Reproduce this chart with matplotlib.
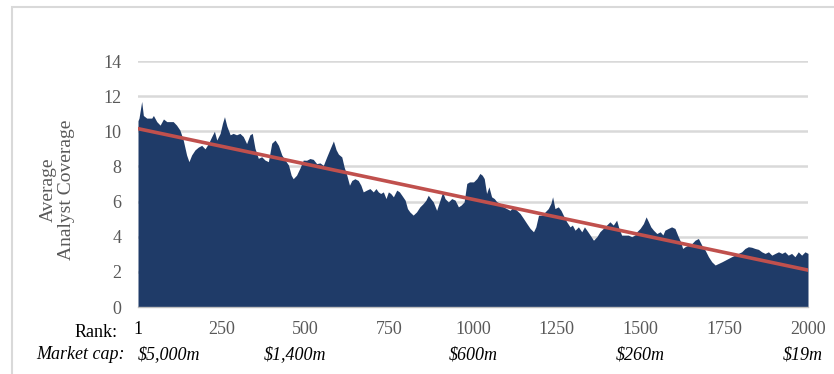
import matplotlib
matplotlib.use("Agg")
import matplotlib.pyplot as plt
from matplotlib.patches import Rectangle

plt.rcParams['font.family'] = ['Liberation Serif', 'DejaVu Serif']

# Average analyst coverage by market-cap rank
ranks = [1, 4, 12, 17, 27, 42, 47, 57, 67, 77, 87, 106, 116, 126, 136, 146, 153,
         161, 171, 181, 191, 201, 211, 221, 229, 236, 246, 253, 259, 266, 276,
         285, 295, 305, 315, 325, 335, 342, 350, 360, 370, 380, 390, 400, 410,
         420, 430, 440, 450, 458, 464, 474, 484, 494, 504, 514, 524, 534, 544,
         554, 564, 574, 584, 592, 599, 609, 616, 624, 632, 639, 648, 658, 666,
         673, 683, 693, 703, 711, 718, 725, 733, 741, 748, 755, 763, 773, 781,
         788, 798, 805, 812, 822, 832, 842, 852, 860, 867, 874, 882, 892, 902,
         910, 917, 927, 937, 947, 957, 965, 974, 982, 990, 1002, 1012, 1021,
         1028, 1034, 1041, 1048, 1056, 1064, 1071, 1081, 1091, 1101, 1111, 1121,
         1131, 1141, 1151, 1161, 1171, 1181, 1188, 1196, 1206, 1215, 1225, 1233,
         1238, 1245, 1255, 1263, 1270, 1280, 1290, 1297, 1305, 1315, 1325, 1333,
         1340, 1350, 1360, 1370, 1379, 1389, 1399, 1409, 1419, 1429, 1436, 1444,
         1454, 1464, 1474, 1484, 1489, 1499, 1509, 1517, 1524, 1531, 1539, 1549,
         1559, 1567, 1573, 1583, 1593, 1603, 1613, 1620, 1626, 1633, 1643, 1653,
         1663, 1673, 1683, 1693, 1703, 1713, 1723, 1733, 1743, 1753, 1762, 1772,
         1782, 1792, 1802, 1812, 1822, 1832, 1842, 1852, 1862, 1872, 1882, 1892,
         1902, 1912, 1922, 1931, 1941, 1951, 1961, 1971, 1981, 1991, 2000]
coverage = [10.6, 10.75, 11.7, 10.9, 10.75, 10.75, 10.9, 10.55, 10.35, 10.7, 10.55,
            10.55, 10.35, 10.07, 9.5, 8.65, 8.27, 8.65, 8.94, 9.1, 9.2, 9.0, 9.3,
            9.7, 10.0, 9.5, 9.88, 10.45, 10.83, 10.3, 9.8, 9.88, 9.8, 9.88, 9.7,
            9.3, 9.8, 9.88, 9.03, 8.46, 8.55, 8.36, 8.27, 9.32, 9.5, 9.2, 8.65,
            8.36, 8.08, 7.5, 7.3, 7.5, 7.9, 8.36, 8.35, 8.45, 8.4, 8.16, 8.2,
            8.06, 8.54, 9.0, 9.45, 8.95, 8.7, 8.54, 7.97, 7.5, 6.93, 7.2, 7.3,
            7.2, 6.93, 6.55, 6.65, 6.74, 6.55, 6.74, 6.55, 6.46, 6.55, 6.17, 6.55,
            6.46, 6.27, 6.65, 6.55, 6.36, 6.08, 5.6, 5.41, 5.23, 5.41, 5.7, 5.89,
            6.08, 6.36, 6.17, 5.98, 5.5, 6.08, 6.55, 6.17, 5.98, 6.17, 6.08, 5.7,
            5.8, 5.98, 7.03, 7.12, 7.12, 7.31, 7.6, 7.5, 7.31, 6.46, 6.84, 6.27,
            6.17, 6.0, 5.9, 5.7, 5.6, 5.5, 5.7, 5.5, 5.32, 5.04, 4.75, 4.47, 4.28,
            4.56, 5.22, 5.22, 5.4, 5.6, 5.9, 6.27, 5.6, 5.7, 5.5, 5.22, 4.85, 4.56,
            4.66, 4.37, 4.56, 4.28, 4.56, 4.37, 4.09, 3.8, 4.0, 4.28, 4.47, 4.66,
            4.85, 4.66, 4.94, 4.47, 4.09, 4.09, 4.09, 4.0, 4.1, 4.28, 4.47, 4.75,
            5.13, 4.85, 4.56, 4.37, 4.18, 4.28, 4.1, 4.37, 4.47, 4.56, 4.47, 4.0,
            3.71, 3.33, 3.43, 3.52, 3.6, 3.8, 3.9, 3.52, 3.24, 2.86, 2.57, 2.39,
            2.48, 2.57, 2.67, 2.76, 2.86, 2.95, 3.05, 3.14, 3.33, 3.43, 3.4, 3.33,
            3.28, 3.14, 3.05, 3.14, 2.95, 3.05, 3.14, 3.05, 3.14, 2.95, 3.05, 2.86,
            3.14, 2.95, 3.14, 3.05]

# linear trend endpoints
trend_ranks = [1, 2000]
trend_values = [10.15, 2.1]

rank_ticks = [1, 250, 500, 750, 1000, 1250, 1500, 1750, 2000]
mark_ticks = [1, 500, 1000, 1500, 2000]
cap_ranks = [1, 470, 1000, 1500, 1985]
cap_labels = ['$5,000m', '$1,400m', '$600m', '$260m', '$19m']

navy = '#1f3b68'
red = '#c0504d'
grid = '#d9d9d9'
gray_txt = '#595959'

fig = plt.figure(figsize=(8.34, 3.74), dpi=100)
ax = fig.add_axes([138/834, 1 - 307/374, 670/834, (307 - 61)/374])

ax.fill_between(ranks, coverage, 0, color=navy, linewidth=0, zorder=2)
ax.plot(trend_ranks, trend_values, color=red, lw=2.6, zorder=3)

ax.set_xlim(1, 2000)
ax.set_ylim(0, 14)
ax.set_yticks(range(0, 15, 2))
ax.grid(axis='y', color=grid, lw=1.8)
ax.set_axisbelow(True)

for s in ['top', 'right', 'left']:
    ax.spines[s].set_visible(False)
ax.spines['bottom'].set_color('#bfbfbf')
ax.spines['bottom'].set_linewidth(1.0)

ax.set_xticks(rank_ticks)
ax.set_xticklabels([str(r) for r in rank_ticks])
ax.set_xticks(mark_ticks, minor=True)
ax.tick_params(axis='x', which='major', length=0, pad=10, labelsize=13, labelcolor=gray_txt)
ax.tick_params(axis='x', which='minor', length=5, color='#bfbfbf', width=1)
ax.tick_params(axis='y', length=0, pad=12, labelsize=13, labelcolor=gray_txt)
ax.get_xticklabels()[0].set_color('black')

ax.text(-0.03, -0.105, 'Rank:', transform=ax.transAxes, ha='right', va='center',
        fontsize=13, color='black')
ax.text(-0.02, -0.195, 'Market cap:', transform=ax.transAxes, ha='right',
        va='center', fontsize=13, style='italic', color='black')
for r, lab in zip(cap_ranks, cap_labels):
    ha = 'left' if r == cap_ranks[0] else 'center'
    ax.text(r, -0.195, lab, transform=ax.get_xaxis_transform(), ha=ha,
            va='center', fontsize=13, style='italic', color='black')

fig.text(57/834, 1 - 190/374, 'Average\nAnalyst Coverage', rotation=90,
         ha='center', va='center', multialignment='center', fontsize=14,
         color=gray_txt, linespacing=1.1)

# light chart frame
fig.add_artist(Rectangle((12/834, -0.1), 2, 1 - 7/374 + 0.1,
                         transform=fig.transFigure, fill=False,
                         edgecolor=grid, lw=1.5))

fig.savefig('out.png', dpi=100)
